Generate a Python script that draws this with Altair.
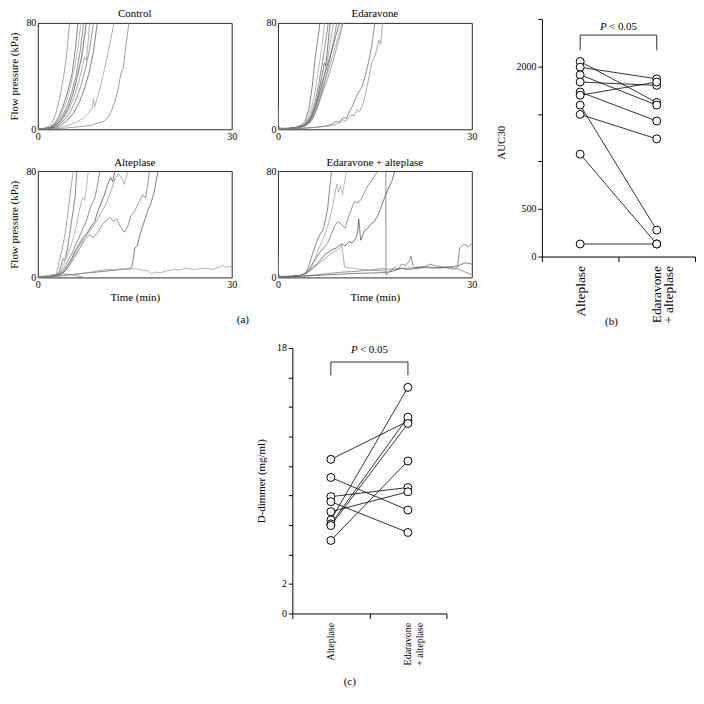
import altair as alt
import pandas as pd

FONT = "Liberation Serif"

# ---------------- (a) flow-pressure traces: (time [min], pressure [kPa]) ----------------
control_curves = [
    ([0, 0.8, 1.5, 2.2, 2.8, 3.4, 4.0, 4.5, 4.9], [0, 0.6, 1.8, 5, 12, 24, 40, 58, 80]),
    ([0, 1.0, 1.8, 2.5, 3.2, 3.9, 4.6, 5.3, 5.8, 6.2], [0, 0.5, 1.5, 4, 9, 17, 28, 42, 60, 80]),
    ([0, 1.0, 2.0, 2.8, 3.5, 4.2, 4.9, 5.5, 6.1, 6.7], [0, 0.4, 1.6, 4.5, 10, 18, 29, 42, 58, 80]),
    ([0, 1.2, 2.1, 3.0, 3.8, 4.5, 5.2, 5.9, 6.5, 7.1], [0, 0.5, 1.8, 5, 10, 17, 27, 40, 57, 80]),
    ([0, 1.2, 2.2, 3.1, 3.9, 4.7, 5.4, 6.1, 6.8, 7.5], [0, 0.4, 1.5, 4.5, 9, 16, 26, 39, 55, 80]),
    ([0, 1.3, 2.3, 3.2, 4.0, 4.8, 5.6, 6.3, 6.9, 7.2, 7.5, 7.8, 8.0], [0, 0.4, 1.4, 4, 8.5, 15, 24, 35, 47, 54, 52, 66, 80]),
    ([0, 1.4, 2.5, 3.4, 4.3, 5.1, 5.9, 6.7, 7.4, 8.0, 8.6], [0, 0.4, 1.5, 4, 8, 14, 22, 33, 46, 60, 80]),
    ([0, 1.5, 2.7, 3.7, 4.6, 5.5, 6.4, 7.2, 7.9, 8.6, 9.2], [0, 0.3, 1.3, 3.5, 7, 12, 20, 30, 42, 58, 80]),
    ([0, 2, 3.5, 4.8, 6.0, 7.0, 7.8, 8.4, 8.6, 8.8, 9.3, 9.8, 10.3, 10.8, 11.3, 11.8],
     [0, 0.6, 1.5, 3, 5.5, 8, 12, 16, 23, 17, 25, 34, 45, 56, 68, 80]),
    ([0, 2, 4, 5.5, 7, 8.2, 9.2, 10.2, 10.9, 11.4, 12.0, 12.5, 12.9, 13.2, 13.5, 14.1],
     [0, 0.3, 0.8, 1.5, 2.2, 3, 4.5, 6, 9, 14, 22, 32, 43, 45, 58, 80]),
]

edaravone_curves = [
    ([0, 0.1, 0.3, 1.0, 2.0, 3.0], [18, 3, 1, 0.8, 1, 1.5]),
    ([0, 1.5, 2.8, 3.6, 4.2, 4.8, 5.3, 5.8, 6.2, 6.5], [0, 0.6, 1.6, 3, 6, 15, 32, 55, 68, 80]),
    ([0, 1.5, 3.0, 3.8, 4.4, 5.0, 5.5, 6.0, 6.5, 6.9, 7.2], [0, 0.5, 1.5, 3, 6, 13, 22, 36, 52, 66, 80]),
    ([0, 1.5, 3.0, 3.9, 4.5, 5.1, 5.7, 6.2, 6.7, 7.2, 7.8], [0, 0.5, 1.5, 3, 5.5, 11, 20, 31, 45, 60, 80]),
    ([0, 1.6, 3.1, 4.0, 4.6, 5.2, 5.8, 6.3, 6.8, 7.2, 7.4, 7.7, 8.1], [0, 0.5, 1.5, 3, 5.5, 10, 18, 28, 40, 50, 48, 62, 80]),
    ([0, 1.6, 3.1, 4.0, 4.7, 5.3, 5.9, 6.5, 7.0, 7.5, 8.0, 8.6], [0, 0.5, 1.4, 3, 5, 9, 16, 26, 37, 48, 62, 80]),
    ([0, 1.6, 3.2, 4.1, 4.8, 5.4, 6.0, 6.6, 7.1, 7.6, 8.1, 8.6, 9.1], [0, 0.4, 1.3, 2.8, 5, 9, 15, 24, 33, 43, 54, 66, 80]),
    ([0, 1.7, 3.2, 4.1, 4.8, 5.3, 5.8, 6.3, 6.8, 7.4, 8.0, 8.5, 9.0, 9.5], [0, 0.4, 1.3, 2.8, 5.5, 10, 17, 25, 34, 44, 54, 62, 71, 80]),
    ([0, 1.7, 3.3, 4.2, 4.9, 5.4, 5.9, 6.4, 6.9, 7.5, 8.1, 8.7, 9.3, 9.9], [0, 0.4, 1.2, 2.6, 5, 9.5, 16, 23, 31, 40, 49, 59, 69, 80]),
    ([0, 1.8, 3.4, 4.3, 5.0, 5.5, 6.0, 6.5, 7.0, 7.6, 8.2, 8.8, 9.4, 10.1], [0, 0.4, 1.2, 2.5, 5, 9, 15, 22, 29, 37, 46, 56, 67, 80]),
    ([0, 2, 4, 6, 7.5, 8.3, 9.0, 9.6, 10.1, 10.6, 11.0, 11.5, 11.9, 12.4, 13.0, 13.5, 14.0, 14.5, 15.0],
     [0, 0.3, 0.8, 1.6, 2.6, 3.7, 6, 5, 9, 8, 13, 17, 22, 27, 32, 40, 50, 62, 80]),
    ([0, 2, 4, 6, 8, 9.2, 9.9, 10.5, 11.0, 11.4, 11.8, 12.2, 12.6, 13.0, 13.5, 14.0, 14.5, 15.0, 15.3, 15.6, 15.9, 16.2],
     [0, 0.3, 0.8, 1.5, 2.5, 4, 7.4, 6, 9, 11, 10, 15, 13, 17, 25, 37, 50, 55, 60, 67, 64, 80]),
]

alteplase_curves = [
    ([0, 1.5, 2.5, 2.9, 3.2, 3.7, 4.2, 4.7, 5.1, 5.5], [0, 0.5, 1.5, 2.5, 10, 20, 32, 50, 67, 80]),
    ([0, 1.5, 2.8, 3.3, 3.6, 3.9, 4.2, 4.6, 5.0, 5.4, 5.8, 6.0], [0, 0.5, 1.8, 4, 9, 14, 13, 22, 35, 48, 62, 80]),
    ([0, 1.8, 3.0, 3.6, 4.0, 4.5, 5.0, 5.5, 6.0, 6.5, 6.9, 7.2, 7.5, 7.8], [0, 0.5, 2, 5, 10, 16, 22, 30, 40, 52, 60, 58, 66, 80]),
    ([0, 1.8, 3.2, 3.8, 4.3, 4.8, 5.3, 5.8, 6.3, 6.8, 7.3, 7.8, 8.3, 8.7, 9.1, 9.6],
     [0, 0.5, 2, 5, 9, 14, 18, 24, 29, 35, 40, 47, 55, 58, 66, 80]),
    ([0, 1.8, 3.3, 4.0, 4.6, 5.2, 5.8, 6.4, 7.0, 7.6, 8.2, 8.8, 9.3, 9.8, 10.3, 10.8, 11.3, 11.6, 11.9],
     [0, 0.5, 2, 4.5, 9, 14, 20, 25, 30, 33, 38, 42, 50, 56, 62, 70, 75, 72, 80]),
    ([0, 2, 3.5, 4.2, 4.8, 5.5, 6.2, 7.0, 7.6, 8.2, 8.8, 9.5, 10.2, 10.8, 11.4, 12.0, 12.5, 13.0, 13.4, 13.7, 14.0],
     [0, 0.5, 2, 5, 9, 15, 22, 28, 32, 36, 40, 46, 52, 58, 66, 75, 78, 74, 70, 76, 80]),
    ([0, 2, 3.5, 4.3, 5.0, 5.8, 6.5, 7.2, 8.0, 8.6, 9.3, 10.0, 10.6, 11.2, 11.7, 12.2, 12.8, 13.4, 13.9, 14.4, 15.0, 15.6, 16.2, 16.7, 17.0, 17.3],
     [0, 0.5, 2, 5, 10, 16, 22, 28, 32, 30, 34, 40, 43, 45, 42, 44, 38, 34, 38, 46, 50, 56, 62, 60, 70, 80]),
    ([0, 2, 4, 6, 8, 10, 11, 12, 13, 14.0, 14.5, 14.8, 15.0, 15.4, 15.8, 16.2, 16.6, 17.0, 17.5, 18.0, 18.3, 18.6],
     [0, 0.5, 1.5, 2.5, 3.5, 4.5, 5, 5.5, 6, 6.5, 7.5, 14, 22, 24, 32, 38, 44, 50, 56, 64, 72, 80]),
    ([0, 2, 4, 6, 8, 10, 11, 12, 13, 14, 15, 16, 17, 17.6, 18, 19, 20, 21, 22, 23, 24, 25, 26, 27, 28, 28.6, 29, 29.5, 30],
     [0, 0.6, 1.4, 2.5, 3.8, 5.5, 6.3, 5.5, 6.5, 6, 6.8, 5.5, 5, 2.5, 4, 3.5, 5, 6, 5.5, 7, 6, 6.5, 7, 6, 7.5, 9.5, 7.5, 8.5, 8]),
    ([0, 1, 2, 3, 4, 5, 6, 7], [0.5, 1, 1.8, 2.5, 2.8, 2.2, 1.2, 0.3]),
]

ed_alt_curves = [
    ([0, 0.1, 0.3, 1, 2, 3], [17, 3, 1, 0.8, 1.2, 1.8]),
    ([0, 2, 3.5, 4.2, 4.7, 5.1, 5.5, 6.0, 6.5, 7.0, 7.3, 7.7, 8.0, 8.3], [0, 0.6, 1.5, 2.5, 7.5, 14, 20, 27, 32, 36, 42, 52, 67, 80]),
    ([0, 2, 3.5, 4.4, 5.0, 5.6, 6.2, 6.8, 7.4, 7.9, 8.4, 8.8, 9.1, 9.4, 9.7, 10.0, 10.3, 10.6],
     [0, 0.6, 1.5, 3, 6, 12, 20, 27, 34, 42, 52, 62, 70, 64, 69, 62, 72, 80]),
    ([0, 2, 3.5, 4.5, 5.2, 5.8, 6.5, 7.2, 7.7, 8.3, 8.8, 9.3, 9.8, 10.4, 10.9, 11.4, 11.9, 12.4, 12.9, 13.4, 13.9, 14.4, 14.9, 15.2, 15.5, 16.7,
      16.71, 17.2, 18.1, 18.6, 19.1, 19.8, 20.3, 20.6, 20.9, 21.2, 22.0, 22.7, 23.5, 24.2, 25.3, 26.3, 27.3, 27.8, 28.1, 28.8, 29.5, 30],
     [0, 0.5, 1.5, 4, 9, 14, 19, 23, 26, 33, 39, 42, 40, 37, 45, 52, 57, 56, 59, 64, 69, 72, 76, 78, 80, 80,
      2, 4, 7.5, 6, 10, 9, 12, 16, 9, 7.5, 8, 8, 10, 9, 8, 7, 6, 8, 22, 25, 23, 26]),
    ([0, 2, 3.5, 4.5, 5.3, 6.0, 6.6, 7.2, 7.8, 8.4, 9.0, 9.5, 9.9, 10.5, 11.0, 11.5, 12.0, 12.3, 12.5, 12.8, 13.4, 13.9, 14.4, 14.9, 15.4, 15.9, 16.5, 17.0, 17.6, 18.1],
     [0, 0.5, 1.5, 3.5, 7, 10, 13, 17, 19, 21, 22, 24, 25, 24, 27, 26, 29, 33, 44, 28, 35, 37, 40, 42, 46, 52, 60, 66, 72, 80]),
    ([0, 2, 3.5, 4.5, 5.3, 6.0, 6.8, 7.5, 8.2, 9.0, 9.6, 9.9, 10.3, 10.6, 11.2, 12, 13, 14, 15, 16, 16.7],
     [0, 0.5, 1.5, 3.5, 6, 9, 12, 15, 18, 20, 22, 24, 8, 7.5, 7, 6.5, 6, 5.5, 5.2, 5, 4.8]),
    ([0, 2, 4, 6, 8, 10, 12, 14, 16, 18, 20, 22, 24, 26, 27, 28, 29, 30], [0, 0.5, 1, 2, 3, 4, 4.5, 5.5, 6.5, 6, 7, 7.5, 7, 8, 7.5, 6, 4, 2]),
    ([0, 4, 8, 12, 16, 17, 18, 19, 20, 21, 22, 23, 24, 25, 26, 27, 28, 29, 30], [0, 1, 2, 3, 3.5, 4, 5, 7, 6, 6.5, 7, 8, 7.5, 7, 7.5, 8, 9, 11, 10]),
]

# ---------------- (b) AUC30 and (c) D-dimer, paired per animal ----------------
groups = ["Alteplase", "Edaravone + alteplase"]
auc_alteplase = [2052, 1992, 1912, 1836, 1731, 1697, 1593, 1495, 1077, 132]
auc_ed_alt = [1620, 1870, 1593, 1801, 1426, 1836, 278, 1238, 132, 132]
auc_ticks = [0, 500, 1000, 1500, 2000, 2500]
auc_labelled = [0, 500, 2000]

dd_alteplase = [10.45, 9.22, 7.92, 7.58, 6.90, 6.34, 6.07, 5.96, 4.95]
dd_ed_alt = [13.04, 7.01, 8.54, 5.49, 8.25, 15.33, 13.31, 12.88, 10.34]
dd_ticks = [0, 2, 4, 6, 8, 10, 12, 14, 16, 18]
dd_labelled = [0, 2, 18]

bracket_groups = [groups[0], groups[0], groups[1], groups[1]]
bracket_b = [2170, 2330, 2330, 2170]
bracket_c = [16.15, 17.05, 17.05, 16.15]
ptext_b = 2415
ptext_c = 17.85

SHADES = ["#8a8a8a", "#5e5e5e", "#a2a2a2", "#6e6e6e", "#4a4a4a", "#939393", "#767676",
          "#575757", "#9a9a9a", "#828282", "#666666", "#8e8e8e"]

PW, PH = 195, 107
TOP_MARK = -34   # invisible extent marker above the top-row plots


def traces_df(curves):
    rows = []
    for i, (ts, ps) in enumerate(curves):
        for k, (t, p) in enumerate(zip(ts, ps)):
            rows.append({"curve": i, "k": k, "t": t, "p": p})
    return pd.DataFrame(rows)


def label_text(text, x, y, size=11, align="center", baseline="middle", style="normal", angle=0):
    return alt.Chart(pd.DataFrame({"s": [0]})).mark_text(
        text=text, font=FONT, fontSize=size, fontStyle=style, align=align, baseline=baseline,
        angle=angle, color="black").encode(x=alt.value(x), y=alt.value(y))


def marker(x, y):
    # invisible 1px mark that fixes a panel's layout extent on one side
    return alt.Chart(pd.DataFrame({"s": [0]})).mark_rule(color="white", strokeWidth=0.5).encode(
        x=alt.value(x), y=alt.value(y), y2=alt.value(y + 1))


def tiny():
    return alt.Chart(pd.DataFrame({"s": [0]})).mark_rule(color="white", strokeWidth=0.5).encode(
        x=alt.value(0), x2=alt.value(1), y=alt.value(0)).properties(width=1, height=1)


def flow_panel(curves, name, ytitle, xtitle, tag=None, top_mark=False):
    xaxis = dict(values=[0, 30], ticks=False, domain=False, grid=False, labelFlush=False,
                 labelPadding=2, titlePadding=2)
    yaxis = dict(values=[0, 80], ticks=False, domain=False, grid=False, labelPadding=2, titlePadding=6)
    lines = alt.Chart(traces_df(curves)).mark_line(clip=True, strokeWidth=0.75).encode(
        x=alt.X("t:Q", scale=alt.Scale(domain=[0, 30], nice=False),
                axis=alt.Axis(title=xtitle, **xaxis)),
        y=alt.Y("p:Q", scale=alt.Scale(domain=[0, 80], nice=False),
                axis=alt.Axis(title=ytitle, **yaxis)),
        detail="curve:N",
        order="k:Q",
        color=alt.Color("curve:N", scale=alt.Scale(range=SHADES), legend=None),
    )
    layers = [lines, label_text(name, PW / 2, -5.5, baseline="alphabetic")]
    if tag:
        layers.append(label_text(tag[0], tag[1], tag[2]))
    if top_mark:
        layers.append(marker(PW / 2, TOP_MARK))
    return alt.layer(*layers).properties(
        width=PW, height=PH,
        view=alt.ViewBackground(stroke="#2a2a2a", strokeWidth=1),
    )


def paired_panel(a_vals, b_vals, ticks, labelled, ymax, ytitle, bracket_vals, ptext_y,
                 w, h, cat_font, tag, tag_x, tag_y, title_x, title_y, left_marker, top_mark=False):
    n = len(a_vals)
    df = pd.DataFrame({"subject": list(range(n)) * 2,
                       "group": [groups[0]] * n + [groups[1]] * n,
                       "value": a_vals + b_vals})
    xscale = alt.Scale(type="band", domain=groups, paddingInner=0, paddingOuter=0)
    yscale = alt.Scale(domain=[0, ymax], nice=False)
    test = " || ".join(f"datum.value == {v}" for v in labelled)
    xaxis = alt.Axis(title=None, labelAngle=270, tickBand="extent", tickSize=5, labelPadding=4,
                     labelFontSize=cat_font, labelLineHeight=12, grid=False,
                     labelExpr="datum.value == 'Edaravone + alteplase' ? ['Edaravone', '+ alteplase'] : datum.label")
    yaxis = alt.Axis(values=ticks, format="d", labelExpr=f"({test}) ? datum.label : ''", tickSize=4,
                     labelPadding=2, title=None, grid=False)
    x = alt.X("group:N", scale=xscale, axis=xaxis)
    y = alt.Y("value:Q", scale=yscale, axis=yaxis)

    lines = alt.Chart(df).mark_line(color="black", strokeWidth=0.8).encode(x=x, y=y, detail="subject:N")
    pts = alt.Chart(df).mark_point(shape="circle", fill="white", stroke="black", strokeWidth=1,
                                   size=64, opacity=1, fillOpacity=1).encode(x=x, y=y)
    bdf = pd.DataFrame({"group": bracket_groups, "value": bracket_vals, "k": [0, 1, 2, 3]})
    bracket = alt.Chart(bdf).mark_line(color="black", strokeWidth=0.8).encode(x=x, y=y, order="k:Q")
    tdf = pd.DataFrame({"value": [ptext_y]})
    p_it = alt.Chart(tdf).mark_text(text="P", font=FONT, fontStyle="italic", fontSize=11,
                                    align="left", baseline="middle", color="black").encode(
        x=alt.value(w / 2 - 18.5), y=y)
    p_rest = alt.Chart(tdf).mark_text(text="< 0.05", font=FONT, fontSize=11,
                                      align="left", baseline="middle", color="black").encode(
        x=alt.value(w / 2 - 9.5), y=y)
    layers = [lines, bracket, p_it, p_rest, pts,
              label_text(tag, tag_x, tag_y),
              label_text(ytitle, title_x, title_y, angle=270),
              marker(left_marker, h / 2)]
    if top_mark:
        layers.append(marker(w / 2, TOP_MARK))
    return alt.layer(*layers).properties(width=w, height=h)


control = flow_panel(control_curves, "Control", "Flow pressure (kPa)", None, top_mark=True)
edaravone = flow_panel(edaravone_curves, "Edaravone", None, None)
alteplase = flow_panel(alteplase_curves, "Alteplase", "Flow pressure (kPa)", "Time (min)",
                       tag=("(a)", 206.3, 150.3))
ed_alt = flow_panel(ed_alt_curves, "Edaravone + alteplase", None, "Time (min)")

grid_a = alt.vconcat(
    alt.hconcat(control, edaravone, spacing=27.5),
    alt.hconcat(alteplase, ed_alt, spacing=15.5),
    spacing=14,
)
panel_a = alt.vconcat(tiny(), grid_a, spacing=4)

panel_b = alt.vconcat(
    tiny(),
    paired_panel(auc_alteplase, auc_ed_alt, auc_ticks, auc_labelled, 2500, "AUC30",
                 bracket_b, ptext_b, 154, 239, 13.5, "(b)", 70, 305, -40.3, 124.5, -63, top_mark=True),
    spacing=0,
)
panel_c = paired_panel(dd_alteplase, dd_ed_alt, dd_ticks, dd_labelled, 18, "D-dimmer (mg/ml)",
                       bracket_c, ptext_c, 155, 267, 10, "(c)", 57.7, 336.3, -31, 134, -80)

spacer_c = alt.Chart(pd.DataFrame({"s": [0]})).mark_rule(color="white", strokeWidth=0.5).encode(
    x=alt.value(0), x2=alt.value(174.6), y=alt.value(0)).properties(width=174.6, height=1)

chart = alt.vconcat(
    alt.hconcat(panel_a, panel_b, spacing=1),
    alt.hconcat(spacer_c, panel_c, spacing=0),
    spacing=16,
).properties(
    padding={"left": 0, "top": -28, "right": 0, "bottom": 0}
).configure(
    font=FONT
).configure_axis(
    labelFont=FONT, titleFont=FONT, labelFontSize=10, titleFontSize=11, titleFontWeight="normal",
    labelColor="black", titleColor="black", domainColor="black", tickColor="black", grid=False,
).configure_title(
    font=FONT, fontSize=11, fontWeight="normal", color="black"
).configure_view(stroke=None)

chart.save("out.html", embed_options={"renderer": "svg", "actions": False})
